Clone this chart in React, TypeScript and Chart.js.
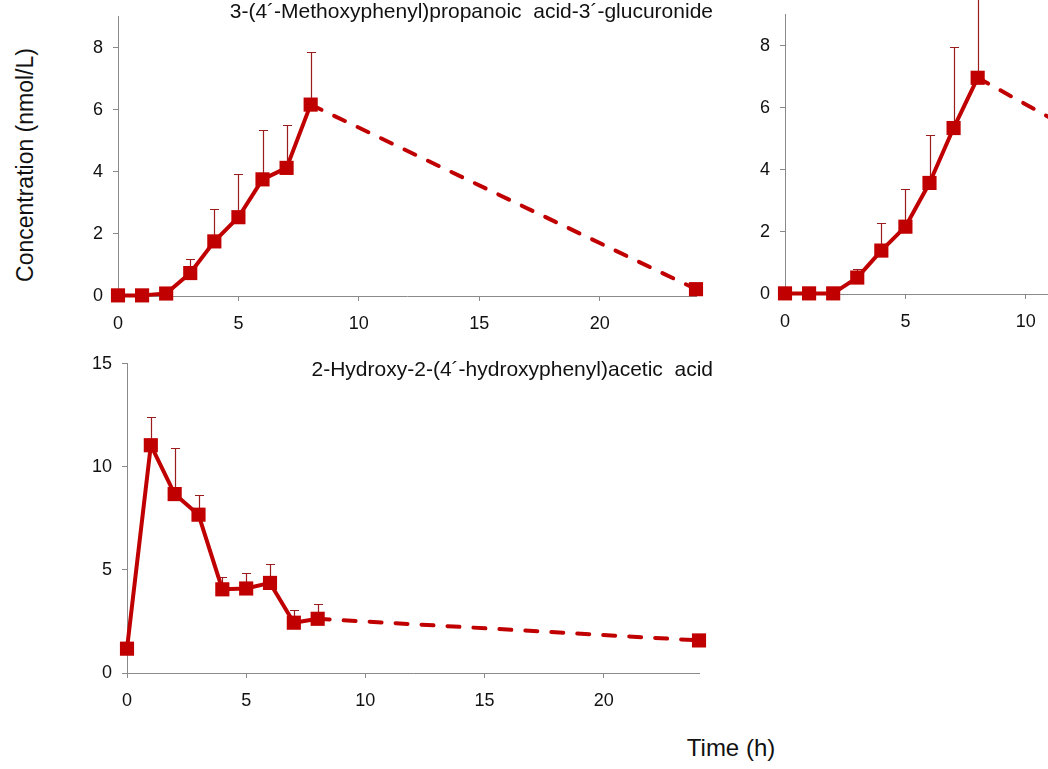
import React, { useEffect, useRef } from "react";
import { Chart, registerables } from "chart.js";

Chart.register(...registerables);

// ---------- data ----------
const times = [0, 1, 2, 3, 4, 5, 6, 7, 8, 24];
const xTickValues = [0, 5, 10, 15, 20];

const methoxyTitle = "3-(4\u00B4-Methoxyphenyl)propanoic  acid-3\u00B4-glucuronide";
const methoxyMean = [0.02, 0.02, 0.08, 0.74, 1.76, 2.54, 3.76, 4.13, 6.17, 0.22];
const methoxySd = [0, 0, 0, 0.46, 1.03, 1.38, 1.58, 1.38, 1.69, 0];
const methoxyYTicks = [0, 2, 4, 6, 8];

const secondMean = [0.02, 0.02, 0.02, 0.53, 1.4, 2.17, 3.58, 5.35, 6.97, 0.1];
const secondSd = [0, 0, 0, 0.29, 0.88, 1.23, 1.56, 2.6, 2.7, 0];
const secondYTicks = [0, 2, 4, 6, 8];

const hydroxyTitle = "2-Hydroxy-2-(4\u00B4-hydroxyphenyl)acetic  acid";
const hydroxyMean = [1.18, 11.05, 8.68, 7.68, 4.06, 4.1, 4.37, 2.44, 2.63, 1.58];
const hydroxySd = [0, 1.37, 2.25, 0.97, 0.58, 0.76, 0.9, 0.63, 0.73, 0];
const hydroxyYTicks = [0, 5, 10, 15];

const yAxisLabel = "Concentration (nmol/L)";
const xAxisLabel = "Time (h)";

// ---------- styling ----------
const FONT = 'Arial, "Liberation Sans", sans-serif';
const RED = "#C00000";
const ERR = "#9A1C1C";
const AXIS = "#8A8A8A";
const Y_AXIS_W = 60;
const X_AXIS_H = 44;
const PAD_TOP = 20;
const PAD_RIGHT = 30;

type PanelProps = {
  mean: number[];
  sd: number[];
  yMax: number;
  yTicks: number[];
  title?: string;
  left: number;
  top: number;
  plotW: number;
  plotH: number;
  titleX?: number;
  titleY?: number;
};

function Panel(p: PanelProps) {
  const ref = useRef<HTMLCanvasElement | null>(null);
  const width = Y_AXIS_W + p.plotW + PAD_RIGHT;
  const height = PAD_TOP + p.plotH + X_AXIS_H;

  useEffect(() => {
    if (!ref.current) return;
    const last = times.length - 1;

    const errorBars = {
      id: "errorBars",
      beforeDatasetsDraw(chart: any) {
        const { ctx, scales } = chart;
        const xs = scales.x;
        const ys = scales.y;
        ctx.save();
        ctx.strokeStyle = ERR;
        ctx.lineWidth = 1.2;
        times.forEach((t, i) => {
          if (!p.sd[i]) return;
          const px = Math.round(xs.getPixelForValue(t)) + 0.5;
          const y0 = ys.getPixelForValue(p.mean[i]);
          const y1 = Math.round(ys.getPixelForValue(p.mean[i] + p.sd[i])) + 0.5;
          ctx.beginPath();
          ctx.moveTo(px, y0);
          ctx.lineTo(px, y1);
          ctx.moveTo(px - 4.5, y1);
          ctx.lineTo(px + 4.5, y1);
          ctx.stroke();
        });
        ctx.restore();
      },
    };

    const titlePlugin = {
      id: "panelTitle",
      afterDraw(chart: any) {
        if (!p.title) return;
        const { ctx } = chart;
        ctx.save();
        ctx.fillStyle = "#111";
        ctx.font = `21px ${FONT}`;
        ctx.textAlign = "right";
        ctx.textBaseline = "alphabetic";
        ctx.fillText(p.title, p.titleX ?? 0, p.titleY ?? 0);
        ctx.restore();
      },
    };

    const tickFont = { family: FONT, size: 18 };

    const chart = new Chart(ref.current, {
      type: "line",
      data: {
        datasets: [
          {
            data: times.map((t, i) => ({ x: t, y: p.mean[i] })),
            borderColor: RED,
            backgroundColor: RED,
            borderWidth: 4,
            borderCapStyle: "round",
            borderJoinStyle: "round",
            pointStyle: "rect",
            pointRadius: 10,
            pointBorderWidth: 0,
            pointBackgroundColor: RED,
            pointBorderColor: RED,
            clip: false,
            segment: {
              borderDash: (ctx: any) => (ctx.p1DataIndex === last ? [12, 14] : undefined),
            },
          } as any,
        ],
      },
      options: {
        responsive: false,
        animation: false,
        devicePixelRatio: 1,
        layout: { padding: { top: PAD_TOP, right: PAD_RIGHT, left: 0, bottom: 0 } },
        plugins: {
          legend: { display: false },
          tooltip: { enabled: false },
          title: { display: false },
        },
        scales: {
          x: {
            type: "linear",
            min: 0,
            max: 24,
            afterBuildTicks: (s: any) => {
              s.ticks = xTickValues.map((v) => ({ value: v }));
            },
            afterFit: (s: any) => {
              s.height = X_AXIS_H;
            },
            ticks: { font: tickFont, color: "#111", padding: 12 },
            grid: { drawOnChartArea: false, drawTicks: true, tickLength: 5, color: AXIS },
            border: { color: AXIS, width: 1 },
          },
          y: {
            type: "linear",
            min: 0,
            max: p.yMax,
            afterBuildTicks: (s: any) => {
              s.ticks = p.yTicks.map((v) => ({ value: v }));
            },
            afterFit: (s: any) => {
              s.width = Y_AXIS_W;
            },
            ticks: { font: tickFont, color: "#111", padding: 10 },
            grid: { drawOnChartArea: false, drawTicks: true, tickLength: 5, color: AXIS },
            border: { color: AXIS, width: 1 },
          },
        },
      } as any,
      plugins: [errorBars, titlePlugin],
    });
    return () => chart.destroy();
  }, []);

  return (
    <canvas
      ref={ref}
      width={width}
      height={height}
      style={{ position: "absolute", left: p.left, top: p.top, width, height }}
    />
  );
}

export default function App() {
  return (
    <div
      style={{
        position: "fixed",
        left: 0,
        top: 0,
        width: 1048,
        height: 769,
        overflow: "hidden",
        background: "#fff",
        fontFamily: FONT,
      }}
    >
      <Panel
        mean={methoxyMean}
        sd={methoxySd}
        yMax={9}
        yTicks={methoxyYTicks}
        title={methoxyTitle}
        left={58}
        top={-4}
        plotW={578}
        plotH={280}
        titleX={655}
        titleY={22}
      />
      <Panel
        mean={secondMean}
        sd={secondSd}
        yMax={9}
        yTicks={secondYTicks}
        left={725}
        top={-6}
        plotW={578}
        plotH={280}
      />
      <Panel
        mean={hydroxyMean}
        sd={hydroxySd}
        yMax={15}
        yTicks={hydroxyYTicks}
        title={hydroxyTitle}
        left={67}
        top={343}
        plotW={572}
        plotH={310}
        titleX={646}
        titleY={33}
      />
      <div
        style={{
          position: "absolute",
          left: 25,
          top: 165,
          transform: "translate(-50%, -50%) rotate(-90deg)",
          whiteSpace: "nowrap",
          fontSize: 23,
          color: "#111",
        }}
      >
        {yAxisLabel}
      </div>
      <div
        style={{
          position: "absolute",
          left: 731,
          top: 748,
          transform: "translate(-50%, -50%)",
          whiteSpace: "nowrap",
          fontSize: 24,
          color: "#111",
        }}
      >
        {xAxisLabel}
      </div>
    </div>
  );
}
